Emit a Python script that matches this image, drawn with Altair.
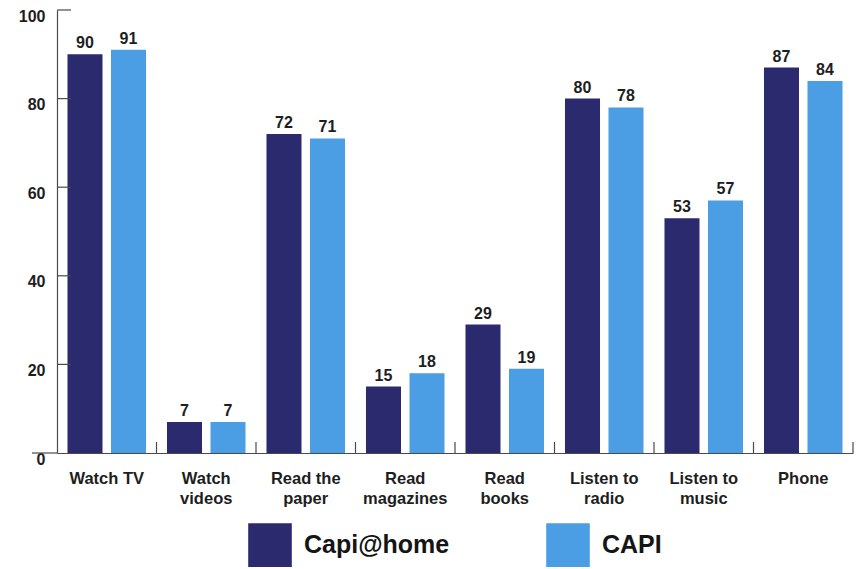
import altair as alt
import pandas as pd

# Activities (line breaks mark the two-line axis labels)
categories = [
    "Watch TV",
    "Watch\nvideos",
    "Read the\npaper",
    "Read\nmagazines",
    "Read\nbooks",
    "Listen to\nradio",
    "Listen to\nmusic",
    "Phone",
]
series = ["Capi@home", "CAPI"]
capi_home = [90, 7, 72, 15, 29, 80, 53, 87]
capi = [91, 7, 71, 18, 19, 78, 57, 84]
y_tick_values = [0, 20, 40, 60, 80, 100]
inner_ticks = [20, 40, 60, 80, 100]
outer_ticks = [0]

DARK = "#2c2a6e"
LIGHT = "#4b9de4"
AXIS = "#4a4a4a"
FONT = "Liberation Sans"

rows = []
for cat, a, b in zip(categories, capi_home, capi):
    rows.append({"activity": cat, "mode": series[0], "share": a})
    rows.append({"activity": cat, "mode": series[1], "share": b})
df = pd.DataFrame(rows)

x_enc = alt.X(
    "activity:N",
    sort=categories,
    scale=alt.Scale(paddingInner=0, paddingOuter=0),
    axis=alt.Axis(
        title=None,
        labelAngle=0,
        labelExpr="split(datum.label, '\\n')",
        labelFontSize=16.5,
        labelFontWeight="bold",
        labelColor="#1e1e1e",
        labelLineHeight=20,
        labelPadding=17,
        ticks=False,
        tickSize=0,
        domainColor=AXIS,
        domainWidth=1.2,
    ),
)
xoff_enc = alt.XOffset(
    "mode:N", sort=series, scale=alt.Scale(paddingInner=0.195, paddingOuter=0.241)
)
y_enc = alt.Y(
    "share:Q",
    scale=alt.Scale(domain=[0, 100], nice=False),
    axis=alt.Axis(
        title=None,
        values=y_tick_values,
        grid=False,
        ticks=False,
        tickSize=0,
        labelPadding=12,
        labelOffset=6,
        labelFlush=False,
        labelFontSize=16,
        labelFontWeight="bold",
        labelColor="#1e1e1e",
        domainColor=AXIS,
        domainWidth=1.2,
    ),
)

bars = alt.Chart(df).mark_bar().encode(
    x=x_enc,
    xOffset=xoff_enc,
    y=y_enc,
    color=alt.Color(
        "mode:N",
        sort=series,
        scale=alt.Scale(domain=series, range=[DARK, LIGHT]),
        legend=alt.Legend(
            title=None,
            orient="none",
            legendX=191,
            legendY=513,
            direction="horizontal",
            symbolType="square",
            symbolSize=1900,
            symbolStrokeWidth=0,
            symbolOpacity=1,
            labelFont=FONT,
            labelFontSize=25,
            labelFontWeight="bold",
            labelColor="#151515",
            labelOffset=12,
            columnPadding=96,
            padding=0,
        ),
    ),
)

labels = alt.Chart(df).mark_text(
    dy=-6, baseline="alphabetic", fontSize=16, fontWeight="bold", color="#1e1e1e", font=FONT
).encode(
    x=alt.X("activity:N", sort=categories),
    xOffset=alt.XOffset("mode:N", sort=series),
    y=alt.Y("share:Q"),
    text=alt.Text("share:Q"),
)

# Inward tick marks on the value axis, and the outward one at zero
ytick_in = alt.Chart(pd.DataFrame({"share": inner_ticks})).mark_rule(
    color=AXIS, strokeWidth=1.2
).encode(y=alt.Y("share:Q"), x=alt.value(0), x2=alt.value(14))

ytick_out = alt.Chart(pd.DataFrame({"share": outer_ticks})).mark_rule(
    color=AXIS, strokeWidth=1.2
).encode(y=alt.Y("share:Q"), x=alt.value(-25), x2=alt.value(0))

# Upward tick marks between the activity groups
xtick_start = alt.Chart(pd.DataFrame({"activity": categories[1:]})).mark_rule(
    color=AXIS, strokeWidth=1.2
).encode(
    x=alt.X("activity:N", sort=categories, bandPosition=0),
    y=alt.value(432),
    y2=alt.value(443),
)
xtick_end = alt.Chart(pd.DataFrame({"activity": categories[-1:]})).mark_rule(
    color=AXIS, strokeWidth=1.2
).encode(
    x=alt.X("activity:N", sort=categories, bandPosition=1),
    y=alt.value(432),
    y2=alt.value(443),
)

chart = (
    alt.layer(bars, labels, ytick_in, ytick_out, xtick_start, xtick_end)
    .properties(
        width=796,
        height=443,
        padding={"left": 57, "top": 10, "right": 7, "bottom": 116},
        autosize=alt.AutoSizeParams(type="none"),
        background="white",
    )
    .configure_view(stroke=None)
    .configure_axis(labelFont=FONT)
    .configure_text(font=FONT)
)

chart.save("out.html", embed_options={"renderer": "svg", "actions": False})
